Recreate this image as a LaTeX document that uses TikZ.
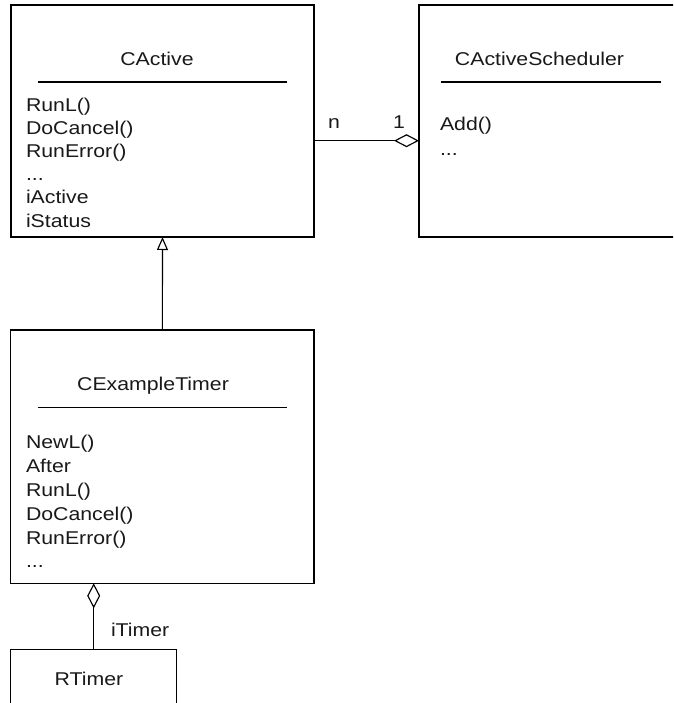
\documentclass[tikz,border=0pt]{standalone}
\usepackage{fontspec}
\setmainfont{Liberation Sans}[FakeStretch=1.15]
\usetikzlibrary{arrows.meta}

\begin{document}
\begin{tikzpicture}[x=1pt,y=-1pt,
  line width=1.15pt,
  every node/.style={font=\fontsize{18.5}{22}\selectfont, inner sep=0pt, outer sep=0pt, text=black!90},
  classbox/.style={draw, rectangle, inner sep=0pt, outer sep=0pt},
  member/.style={anchor=base west},
  title/.style={anchor=base},
  aggr/.style={{Diamond[open,length=25pt,width=13pt,line width=1.15pt]}-},
  inherit/.style={-{Triangle[open,length=13pt,width=11pt,line width=1.15pt]}}]

\useasboundingbox (0,0) rectangle (673,703);
\clip (0,0) rectangle (673,703);

% class boxes
\node[classbox, minimum width=303pt, minimum height=232pt] (active) at (162.5,121) {};
\node[classbox, minimum width=265pt, minimum height=232pt] (sched) at (551.5,121) {};
\node[classbox, minimum width=303.3pt, minimum height=253.3pt] (timer) at (162.35,456.65) {};
\node[classbox, minimum width=166pt, minimum height=80pt] (rtimer) at (93.7,689.3) {};

% CActive
\node[title] (activeT) at (157,65.7) {CActive};
\draw (38,82) -- (287,82);
\node[member] (a1) at (26,112) {RunL()};
\node[member] (a2) at (26,135) {DoCancel()};
\node[member] (a3) at (26,158) {RunError()};
\node[member] (a4) at (26,181) {...};
\node[member] (a5) at (26,204) {iActive};
\node[member] (a6) at (26,227) {iStatus};

% CActiveScheduler
\node[title] (schedT) at (539.5,65.7) {CActiveScheduler};
\draw (441,82) -- (661,82);
\node[member] (s1) at (440,131) {Add()};
\node[member] (s2) at (440,156) {...};

% CExampleTimer
\node[title] (timerT) at (153,390.7) {CExampleTimer};
\draw (38,407.5) -- (287,407.5);
\node[member] (t1) at (26,448.3) {NewL()};
\node[member] (t2) at (26,472) {After};
\node[member] (t3) at (26,496) {RunL()};
\node[member] (t4) at (26,520) {DoCancel()};
\node[member] (t5) at (26,544) {RunError()};
\node[member] (t6) at (26,567) {...};

% RTimer
\node[title] (rtimerT) at (89,685) {RTimer};

% relations
\coordinate (assoc) at (0,140.7);
\draw[aggr] (sched.west |- assoc) -- (active.east |- assoc);
\node[anchor=base west] (mult1) at (328,128.3) {n};
\node[anchor=base west] (mult2) at (393,128.3) {1};

\draw[inherit] (timer.north) -- (active.south);

\draw[aggr] (timer.south -| rtimer.north) -- (rtimer.north);
\node[anchor=base west] (role) at (111,636) {iTimer};
\end{tikzpicture}
\end{document}
